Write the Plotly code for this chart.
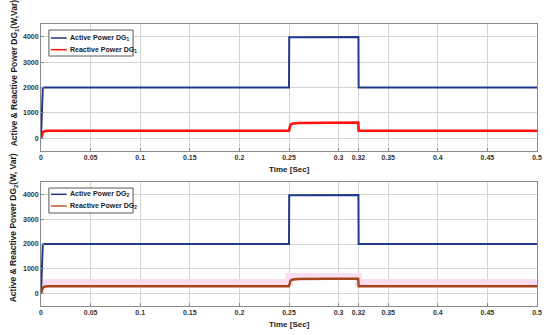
import plotly.graph_objects as go

# ---------------- data ----------------
t_active = [0, 0.0008, 0.0018, 0.003, 0.25, 0.2502, 0.32, 0.3202, 0.5]
p_dg1 = [0, 1500, 1980, 2000, 2000, 3980, 3990, 2000, 2000]
p_dg2 = [0, 1500, 1980, 2000, 2000, 3970, 3980, 2000, 2000]

t_reactive = [0, 0.0008, 0.002, 0.004, 0.008, 0.25, 0.2505, 0.2515, 0.254, 0.26, 0.29, 0.3198, 0.3202, 0.5]
q_dg1 = [0, 120, 240, 290, 300, 300, 420, 540, 580, 600, 610, 615, 300, 300]
q_dg2 = [0, 120, 240, 285, 295, 295, 410, 520, 570, 590, 600, 605, 295, 295]

t_band = [0, 0.25, 0.2501, 0.3199, 0.32, 0.5]
band_dg2 = [450, 450, 690, 690, 450, 450]

x_ticks = [0, 0.05, 0.1, 0.15, 0.2, 0.25, 0.3, 0.32, 0.35, 0.4, 0.45, 0.5]
x_tick_text = ["0", "0.05", "0.1", "0.15", "0.2", "0.25", "0.3", "0.32", "0.35", "0.4", "0.45", "0.5"]
y_ticks = [0, 1000, 2000, 3000, 4000]
y_tick_text = ["0", "1000", "2000", "3000", "4000"]

leg1 = ["Active Power DG<sub>1</sub>", "Reactive Power DG<sub>1</sub>"]
leg2 = ["Active Power DG<sub>2</sub>", "Reactive Power DG<sub>2</sub>"]
ytitle1 = "Active & Reactive Power DG<sub>1</sub>(W,Var)"
ytitle2 = "Active & Reactive Power DG<sub>2</sub>(W, Var)"
xtitle = "Time [Sec]"

# ---------------- layout helpers ----------------
W, H = 550, 335
L, R, T, B = 41, 542, 24, 306
PW, PH = R - L, B - T


def px(p):
    return (p - L) / PW


def py(p):
    return (B - p) / PH


BLUE = "#1f3a8c"
RED = "#ff1111"
BROWN = "#a4461c"
PINK = "#fcdcf1"
SANS = "Liberation Sans, Arial, sans-serif"

fig = go.Figure()

fig.add_trace(go.Scatter(x=t_active, y=p_dg1, mode="lines", line=dict(color=BLUE, width=2),
                         xaxis="x", yaxis="y", showlegend=False))
fig.add_trace(go.Scatter(x=t_reactive, y=q_dg1, mode="lines", line=dict(color=RED, width=2.6),
                         xaxis="x", yaxis="y", showlegend=False))

fig.add_trace(go.Scatter(x=t_band, y=band_dg2, mode="lines", line=dict(color=PINK, width=7),
                         xaxis="x2", yaxis="y2", showlegend=False, hoverinfo="skip"))
fig.add_trace(go.Scatter(x=t_active, y=p_dg2, mode="lines", line=dict(color=BLUE, width=2),
                         xaxis="x2", yaxis="y2", showlegend=False))
fig.add_trace(go.Scatter(x=t_reactive, y=q_dg2, mode="lines", line=dict(color=BROWN, width=2.4),
                         xaxis="x2", yaxis="y2", showlegend=False))

top_dom = [py(151), 1.0]
bot_dom = [0.0, py(182)]

axis_common = dict(showgrid=True, gridcolor="#d4d4d4", gridwidth=1, showline=True, mirror=True,
                   linecolor="#8a8a8a", linewidth=1, zeroline=False, ticks="inside", ticklen=3,
                   tickcolor="#8a8a8a",
                   tickfont=dict(family=SANS, size=7, color="#333333", weight="bold"))

fig.update_layout(
    width=W, height=H, margin=dict(l=L, r=W - R, t=T, b=H - B),
    paper_bgcolor="white", plot_bgcolor="white",
    xaxis=dict(domain=[0, 1], anchor="y", range=[0, 0.5], tickvals=x_ticks, ticktext=x_tick_text,
               **axis_common),
    yaxis=dict(domain=top_dom, anchor="x", range=[-500, 4500], tickvals=y_ticks, ticktext=y_tick_text,
               **axis_common),
    xaxis2=dict(domain=[0, 1], anchor="y2", range=[0, 0.5], tickvals=x_ticks, ticktext=x_tick_text,
                **axis_common),
    yaxis2=dict(domain=bot_dom, anchor="x2", range=[-500, 4500], tickvals=y_ticks, ticktext=y_tick_text,
                **axis_common),
)

shapes = []
annotations = []

# titles
for yc, txt in [(73, ytitle1), (228, ytitle2)]:
    annotations.append(dict(xref="paper", yref="paper", x=px(14), y=py(yc), text="<b>" + txt + "</b>",
                            textangle=-90, showarrow=False, xanchor="center", yanchor="middle",
                            font=dict(family=SANS, size=8.5, color="#1a1a1a")))
for yc in [169, 324]:
    annotations.append(dict(xref="paper", yref="paper", x=0.5, y=py(yc), text="<b>" + xtitle + "</b>",
                            showarrow=False, xanchor="center", yanchor="middle",
                            font=dict(family=SANS, size=8, color="#1a1a1a")))

# manual legends
for (y0, y1, r1, r2, labels, colors) in [
    (30, 56, 38, 49.7, leg1, [BLUE, RED]),
    (188, 213, 194.3, 206, leg2, [BLUE, "#c0592a"]),
]:
    shapes.append(dict(type="rect", xref="paper", yref="paper", x0=px(49), x1=px(134), y0=py(y1), y1=py(y0),
                       line=dict(color="#5a5a5a", width=1), fillcolor="white", layer="above"))
    for ry, lab, col in zip([r1, r2], labels, colors):
        shapes.append(dict(type="line", xref="paper", yref="paper", x0=px(51), x1=px(67), y0=py(ry), y1=py(ry),
                           line=dict(color=col, width=1.5), layer="above"))
        annotations.append(dict(xref="paper", yref="paper", x=px(68), y=py(ry), text="<b>" + lab + "</b>",
                                showarrow=False, xanchor="left", yanchor="middle",
                                font=dict(family=SANS, size=7, color="#1a1a1a")))

fig.update_layout(shapes=shapes, annotations=annotations)

fig.write_html("out.html", config={"displayModeBar": False},
               post_script="document.body.style.margin='0';")
